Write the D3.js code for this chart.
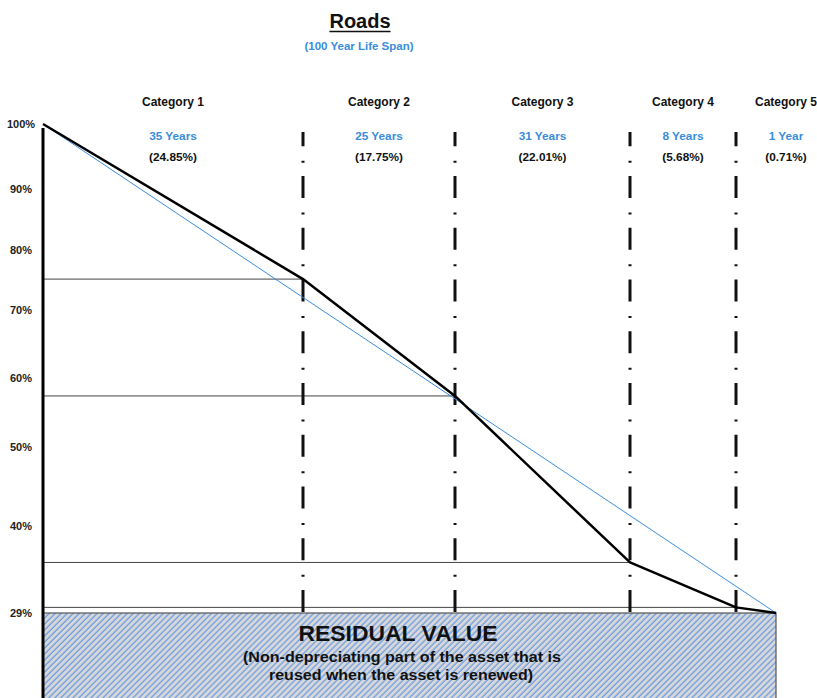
<!DOCTYPE html>
<html lang="en">
<head>
    <meta charset="UTF-8">
    <title>Roads</title>
    <script src="https://d3js.org/d3.v7.min.js"></script>
    <style>
        body {
            margin: 0;
            padding: 0;
            background-color: #ffffff;
            font-family: "Liberation Sans", Arial, sans-serif;
        }
        svg {
            display: block;
        }
        text {
            font-weight: bold;
        }
    </style>
</head>
<body>
    <svg id="chart" width="817" height="698"></svg>

    <script>
        // data
        const categories = ["Category 1", "Category 2", "Category 3", "Category 4", "Category 5"];
        const lifeYears = [35, 25, 31, 8, 1];
        const lifePct = [24.85, 17.75, 22.01, 5.68, 0.71];
        const residualPct = 29;
        const totalYears = 100;
        const yTicks = [100, 90, 80, 70, 60, 50, 40, 29, 0];
        const yTickLabels = ["100%", "90%", "80%", "70%", "60%", "50%", "40%", "29%", "0%"];

        // layout (hand drawn axis in the original, so the scales are piecewise)
        const xStops = [43, 303, 455, 630, 736, 776];
        const yStops = [124, 189, 250, 310, 378, 447, 526, 613, 703];
        const blue = "#3a8ddc";

        const svg = d3.select("#chart");

        // cumulative years at each boundary and remaining value
        const cumYears = [0];
        lifeYears.forEach((d, i) => cumYears.push(cumYears[i] + d));
        const remaining = [100];
        lifePct.forEach((d, i) => remaining.push(+(remaining[i] - d).toFixed(2)));

        const x = d3.scaleLinear().domain(cumYears).range(xStops);
        const y = d3.scaleLinear().domain(yTicks).range(yStops);

        // hatch pattern for residual value
        const defs = svg.append("defs");
        const pat = defs.append("pattern")
            .attr("id", "hatch")
            .attr("patternUnits", "userSpaceOnUse")
            .attr("width", 4.25)
            .attr("height", 10)
            .attr("patternTransform", "rotate(45)");
        pat.append("rect").attr("width", 4.25).attr("height", 10).attr("fill", "#d8d8da");
        pat.append("line")
            .attr("x1", 1).attr("x2", 1)
            .attr("y1", 0).attr("y2", 10)
            .attr("stroke", "#5b93e0")
            .attr("stroke-width", 1.1);

        // title
        const title = svg.append("text")
            .attr("x", 360).attr("y", 28)
            .attr("text-anchor", "middle")
            .attr("font-size", 20)
            .attr("fill", "#111")
            .text("Roads");
        const tl = title.node().getComputedTextLength();
        svg.append("line")
            .attr("x1", 360 - tl / 2).attr("x2", 360 + tl / 2)
            .attr("y1", 31.5).attr("y2", 31.5)
            .attr("stroke", "#111").attr("stroke-width", 1.6);
        svg.append("text")
            .attr("x", 359).attr("y", 50)
            .attr("text-anchor", "middle")
            .attr("font-size", 11.5)
            .attr("fill", blue)
            .text("(" + totalYears + " Year Life Span)");

        // residual box
        svg.append("rect")
            .attr("x", x(0))
            .attr("y", y(residualPct))
            .attr("width", x(totalYears) - x(0))
            .attr("height", y(0) - y(residualPct) + 10)
            .attr("fill", "url(#hatch)")
            .attr("stroke", "#555")
            .attr("stroke-width", 1.2);

        // horizontal reference lines at each category boundary
        svg.selectAll(".hline")
            .data(d3.range(1, categories.length))
            .enter()
            .append("line")
            .attr("class", "hline")
            .attr("x1", x(0))
            .attr("x2", i => x(cumYears[i]))
            .attr("y1", i => y(remaining[i]))
            .attr("y2", i => y(remaining[i]))
            .attr("stroke", "#444")
            .attr("stroke-width", 1);

        // dash-dot dividers
        svg.selectAll(".divider")
            .data(d3.range(1, categories.length))
            .enter()
            .append("line")
            .attr("class", "divider")
            .attr("x1", i => x(cumYears[i]))
            .attr("x2", i => x(cumYears[i]))
            .attr("y1", 132)
            .attr("y2", y(residualPct))
            .attr("stroke", "#111")
            .attr("stroke-width", 3)
            .attr("stroke-dasharray", "22,14.5,2,13.25")
            .attr("stroke-dashoffset", 7.75);

        // y axis line
        svg.append("line")
            .attr("x1", x(0)).attr("x2", x(0))
            .attr("y1", 128).attr("y2", 698)
            .attr("stroke", "#000")
            .attr("stroke-width", 3);

        // straight line depreciation
        const line = d3.line().x(d => x(d[0])).y(d => y(d[1]));
        svg.append("path")
            .datum([[0, 100], [totalYears, residualPct]])
            .attr("d", line)
            .attr("fill", "none")
            .attr("stroke", blue)
            .attr("stroke-width", 1);

        // actual depreciation
        svg.append("path")
            .datum(cumYears.map((d, i) => [d, remaining[i]]))
            .attr("d", line)
            .attr("fill", "none")
            .attr("stroke", "#000")
            .attr("stroke-width", 2.5)
            .attr("stroke-linejoin", "round");

        // y tick labels
        svg.selectAll(".ytick")
            .data(yTicks)
            .enter()
            .append("text")
            .attr("class", "ytick")
            .attr("x", 21)
            .attr("y", d => y(d) + 4)
            .attr("text-anchor", "middle")
            .attr("font-size", 11)
            .attr("fill", "#222")
            .text((d, i) => yTickLabels[i]);

        // category headers
        const colX = i => i < categories.length - 1
            ? (x(cumYears[i]) + x(cumYears[i + 1])) / 2
            : x(cumYears[i]) + 50;

        const head = svg.selectAll(".cat")
            .data(categories)
            .enter()
            .append("g")
            .attr("class", "cat")
            .attr("transform", (d, i) => `translate(${colX(i)},0)`);
        head.append("text")
            .attr("y", 106)
            .attr("text-anchor", "middle")
            .attr("font-size", 12)
            .attr("fill", "#111")
            .text(d => d);
        head.append("text")
            .attr("y", 140)
            .attr("text-anchor", "middle")
            .attr("font-size", 11.8)
            .attr("fill", blue)
            .text((d, i) => lifeYears[i] + (lifeYears[i] === 1 ? " Year" : " Years"));
        head.append("text")
            .attr("y", 161)
            .attr("text-anchor", "middle")
            .attr("font-size", 11.8)
            .attr("fill", "#111")
            .text((d, i) => "(" + lifePct[i].toFixed(2) + "%)");

        // residual labels
        svg.append("text")
            .attr("x", 398).attr("y", 641)
            .attr("text-anchor", "middle")
            .attr("font-size", 22)
            .attr("textLength", 199)
            .attr("lengthAdjust", "spacingAndGlyphs")
            .attr("fill", "#111")
            .text("RESIDUAL VALUE");
        svg.append("text")
            .attr("x", 402).attr("y", 662)
            .attr("text-anchor", "middle")
            .attr("font-size", 14.5)
            .attr("textLength", 318)
            .attr("lengthAdjust", "spacingAndGlyphs")
            .attr("fill", "#111")
            .text("(Non-depreciating part of the asset that is");
        svg.append("text")
            .attr("x", 401).attr("y", 680)
            .attr("text-anchor", "middle")
            .attr("font-size", 14.5)
            .attr("textLength", 264)
            .attr("lengthAdjust", "spacingAndGlyphs")
            .attr("fill", "#111")
            .text("reused when the asset is renewed)");
    </script>
</body>
</html>
